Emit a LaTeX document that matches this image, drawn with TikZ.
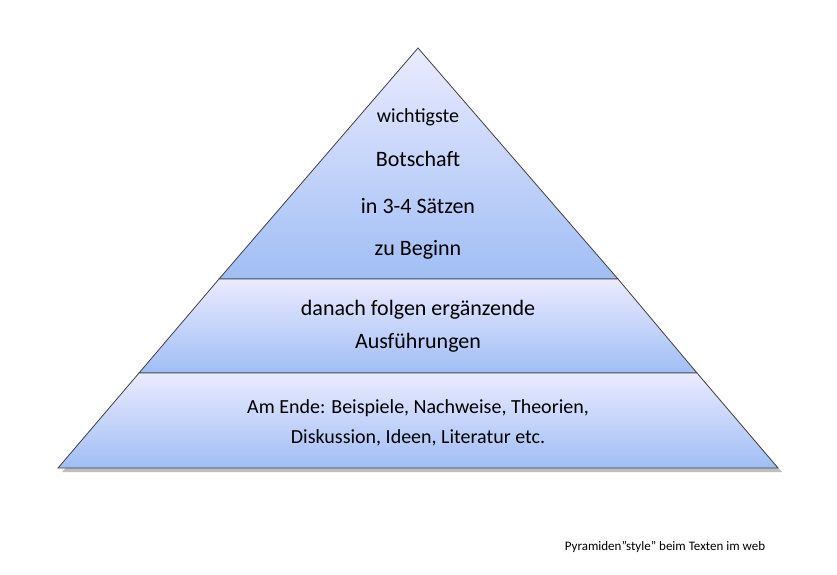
\documentclass[tikz,border=0pt]{standalone}
\usepackage{fontspec}
\setmainfont{Carlito}
\begin{document}
\begin{tikzpicture}[x=1pt,y=-1pt,
  layer/.style={draw=black!75,line width=0.8pt,top color=blue!8!white,bottom color={rgb,255:red,160;green,190;blue,245}},
  txt/.style={align=center,font=\fontsize{22}{26}\selectfont}]
\useasboundingbox (0,0) rectangle (837,574);
\fill[black!25] (421,52) -- (782,472) -- (62,472) -- cycle;
\path[layer] (418,48) -- (618,279) -- (219,279) -- cycle;
\path[layer] (219,279) -- (618,279) -- (697,373) -- (139,373) -- cycle;
\path[layer] (139,373) -- (697,373) -- (778,468) -- (58,468) -- cycle;
\node[txt,font=\fontsize{20}{24}\selectfont] (a) at (418,117) {wichtigste};
\node[txt] (b) at (418,159) {Botschaft};
\node[txt] (c) at (418,206) {in 3-4 Sätzen};
\node[txt] (d) at (418,250) {zu Beginn};
\node[txt] (e) at (418,310) {danach folgen ergänzende};
\node[txt] (f) at (418,343) {Ausführungen};
\node[txt,font=\fontsize{20}{24}\selectfont] (g) at (418,408) {Am Ende: Beispiele, Nachweise, Theorien,};
\node[txt,font=\fontsize{20}{24}\selectfont] (h) at (418,438) {Diskussion, Ideen, Literatur etc.};
\node[font=\fontsize{13}{15}\selectfont] (i) at (665,547) {Pyramiden"style" beim Texten im web};
\end{tikzpicture}
\end{document}
